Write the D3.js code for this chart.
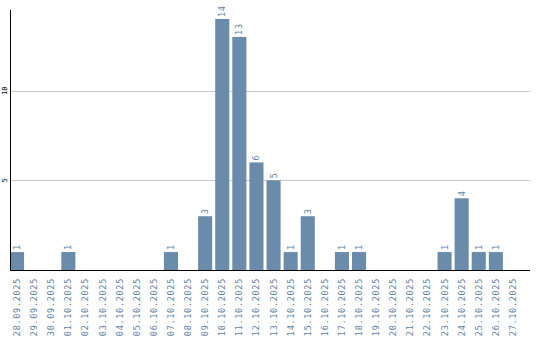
<!DOCTYPE html>
<html>
<head>
<meta charset="utf-8">
<script src="https://cdn.jsdelivr.net/npm/d3@7"></script>
<style>
  body { margin: 0; background: #fff; }
  svg { display: block; }
</style>
</head>
<body>
<script>
const dates = ["28.09.2025","29.09.2025","30.09.2025","01.10.2025","02.10.2025","03.10.2025",
  "04.10.2025","05.10.2025","06.10.2025","07.10.2025","08.10.2025","09.10.2025","10.10.2025",
  "11.10.2025","12.10.2025","13.10.2025","14.10.2025","15.10.2025","16.10.2025","17.10.2025",
  "18.10.2025","19.10.2025","20.10.2025","21.10.2025","22.10.2025","23.10.2025","24.10.2025",
  "25.10.2025","26.10.2025","27.10.2025"];
const counts = [1,0,0,1,0,0,0,0,0,1,0,3,14,13,6,5,1,3,0,1,1,0,0,0,0,1,4,1,1,0];
const yTicks = [5, 10];

let width = 540;
let height = 340;
let plotLeft = 10, plotTop = 10, plotBottom = 270;
let barColor = "#6b8bab";
let textColor = "#5f83a8";

let svg = d3.select("body")
  .append("svg")
  .attr("width", width)
  .attr("height", height);

let xScale = d3.scaleBand()
  .domain(dates)
  .range([plotLeft, plotLeft + dates.length * 17])
  .paddingInner(3 / 17)
  .paddingOuter(0)
  .align(0);

let yScale = d3.scaleLinear()
  .domain([0, 14.5])
  .range([plotBottom, plotTop]);

// grid lines
svg.append("g")
  .selectAll("line")
  .data(yTicks)
  .join("line")
  .attr("x1", plotLeft)
  .attr("x2", 530)
  .attr("y1", d => Math.round(yScale(d)) + 0.5)
  .attr("y2", d => Math.round(yScale(d)) + 0.5)
  .attr("stroke", "#c8c8c8");

// y tick labels
svg.append("g")
  .selectAll("text")
  .data(yTicks)
  .join("text")
  .attr("transform", d => "translate(7," + yScale(d) + ") rotate(-90)")
  .attr("text-anchor", "middle")
  .attr("font-family", "DejaVu Sans Mono")
  .attr("font-size", 7)
  .attr("fill", "#000")
  .text(d => d);

// bars
svg.append("g")
  .selectAll("rect")
  .data(counts)
  .join("rect")
  .attr("x", (d, i) => xScale(dates[i]))
  .attr("y", d => yScale(d))
  .attr("width", xScale.bandwidth())
  .attr("height", d => plotBottom - yScale(d))
  .attr("fill", barColor);

// value labels
svg.append("g")
  .selectAll("text")
  .data(counts.map((v, i) => ({ v: v, d: dates[i] })).filter(o => o.v > 0))
  .join("text")
  .attr("transform", o => "translate(" + (xScale(o.d) + xScale.bandwidth() / 2) + "," + (yScale(o.v) - 2) + ") rotate(-90)")
  .attr("dy", "0.35em")
  .attr("text-anchor", "start")
  .attr("font-family", "DejaVu Sans Mono")
  .attr("font-size", 8.5)
  .attr("letter-spacing", 0.7)
  .attr("fill", textColor)
  .text(o => o.v);

// x labels
svg.append("g")
  .selectAll("text")
  .data(dates)
  .join("text")
  .attr("transform", d => "translate(" + (xScale(d) + xScale.bandwidth() / 2) + ",278) rotate(-90)")
  .attr("dy", "0.35em")
  .attr("text-anchor", "end")
  .attr("font-family", "DejaVu Sans Mono")
  .attr("font-size", 8.5)
  .attr("letter-spacing", 0.7)
  .attr("fill", textColor)
  .text(d => d);

// axes lines
svg.append("line")
  .attr("x1", plotLeft + 0.5).attr("x2", plotLeft + 0.5)
  .attr("y1", plotTop).attr("y2", plotBottom + 1)
  .attr("stroke", "#000");

svg.append("line")
  .attr("x1", plotLeft).attr("x2", 530)
  .attr("y1", plotBottom + 0.5).attr("y2", plotBottom + 0.5)
  .attr("stroke", "#000");
</script>
</body>
</html>
